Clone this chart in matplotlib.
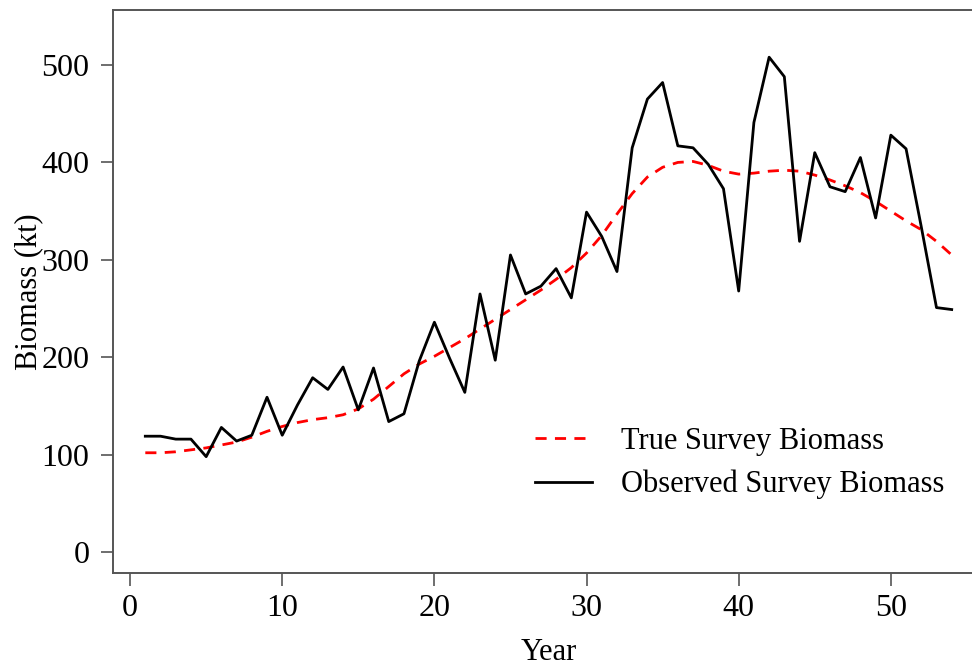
import numpy as np
import matplotlib
matplotlib.use("Agg")
import matplotlib.pyplot as plt

plt.rcParams['font.family'] = ['Liberation Serif', 'DejaVu Serif']

# survey years and biomass series (kt)
years = np.arange(1, 55)
true_biomass = [102, 102, 103, 105, 107, 110, 113, 118, 124, 129,
                133, 136, 138, 141, 147, 157, 170, 183, 193, 201,
                210, 219, 229, 239, 249, 259, 269, 280, 292, 307,
                325, 347, 368, 385, 395, 400, 401, 397, 391, 388,
                389, 391, 392, 391, 387, 382, 376, 369, 360, 350,
                340, 331, 319, 305]
obs_biomass = [119, 119, 116, 116, 98, 128, 114, 120, 159, 120,
               151, 179, 167, 190, 146, 189, 134, 142, 196, 236,
               199, 164, 265, 197, 305, 265, 273, 291, 261, 349,
               324, 288, 415, 465, 482, 417, 415, 398, 373, 268,
               441, 508, 488, 319, 410, 375, 370, 405, 343, 428,
               414, 334, 251, 249]
xticks = [0, 10, 20, 30, 40, 50]
yticks = [0, 100, 200, 300, 400, 500]

fig = plt.figure(figsize=(9.72, 6.69), dpi=100)
ax = fig.add_axes([0.1163, 0.1435, 0.896, 0.8415])

ax.plot(years, true_biomass, color='red', lw=2.0, ls=(0, (4, 3)),
        label='True Survey Biomass')
ax.plot(years, obs_biomass, color='black', lw=2.0,
        label='Observed Survey Biomass')

# R-style padded limits
ax.set_xlim(-1.12, 56.12)
ax.set_ylim(-21.4, 556.4)
ax.set_xticks(xticks)
ax.set_yticks(yticks)

for s in ax.spines.values():
    s.set_color('#555555')
    s.set_linewidth(1.4)
ax.tick_params(direction='out', length=9, width=1.2, color='#555555',
               labelsize=23, pad=6)
ax.tick_params(axis='y', pad=8)

ax.set_xlabel('Year', fontsize=22, labelpad=11)
ax.set_ylabel('Biomass (kt)', fontsize=22, labelpad=-1)

ax.legend(frameon=False, fontsize=22, loc='upper left',
          bbox_to_anchor=(0.538, 0.38), bbox_transform=fig.transFigure,
          handlelength=1.85, handletextpad=0.95, labelspacing=0.45,
          borderaxespad=0)

fig.savefig('out.png', dpi=100)
